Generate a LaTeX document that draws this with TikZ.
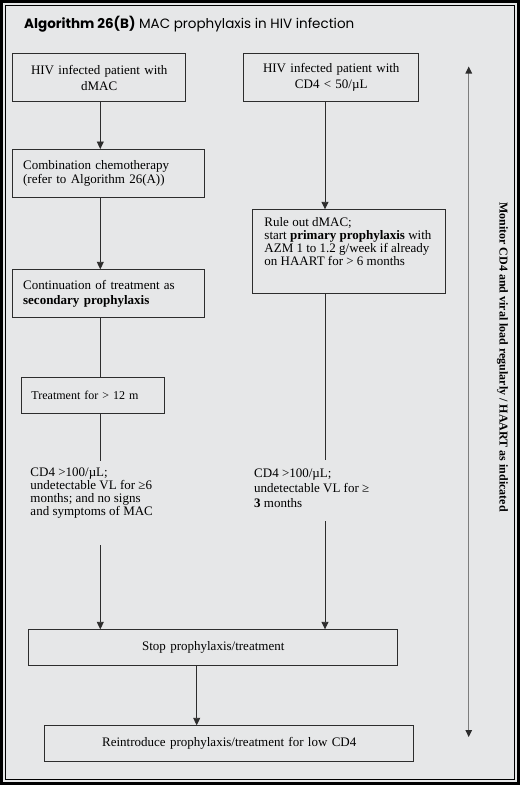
\documentclass[tikz,border=0pt]{standalone}
\usepackage{fontspec}
\setmainfont{Liberation Serif}
\newfontfamily\titlefont{Poppins}
\usetikzlibrary{arrows.meta,calc}
\definecolor{bgc}{RGB}{230,231,232}
\definecolor{linec}{RGB}{45,45,45}
\definecolor{arrc}{RGB}{125,125,125}
\tikzset{
  box/.style={draw=linec, line width=0.9pt, inner ysep=0pt, anchor=north west},
  conn/.style={draw=linec, line width=0.9pt},
  arr/.style={conn, -{Triangle[width=7pt,length=7.5pt]}},
  dbl/.style={draw=arrc, line width=1.2pt, {Triangle[width=6.5pt,length=7pt,color=linec]}-{Triangle[width=6.5pt,length=7pt,color=linec]}},
  plain/.style={inner sep=0pt, align=left, anchor=north west}
}
\begin{document}
\begin{tikzpicture}[x=1pt,y=-1pt]
\useasboundingbox (0,0) rectangle (520,785);
% frame
\fill[black] (0,0) rectangle (520,785);
\fill[bgc] (3.3,3.3) rectangle (516.7,781.7);
\draw[black, line width=1.3pt, fill=bgc] (5.2,5.2) rectangle (514.8,779.8);
% title
\node[anchor=base west, inner sep=0pt] (title) at (24,28.3)
  {\titlefont\fontsize{13.5}{15}\selectfont\textbf{Algorithm 26(B)} MAC prophylaxis in HIV infection};
% boxes
\node[box, minimum width=173pt, minimum height=47.7pt, text width=160pt, inner xsep=6.5pt, align=center,
  font=\fontsize{13}{16}\selectfont] (a) at (12.3,53.3) {HIV infected patient with\\dMAC};
\node[box, minimum width=175pt, minimum height=47.7pt, text width=162pt, inner xsep=6.5pt, align=center,
  font=\fontsize{13}{16}\selectfont] (b) at (243.3,53.3) {HIV infected patient with\\CD4 < 50/µL};
\node[box, minimum width=192pt, minimum height=48pt, text width=171.2pt, inner xsep=10.4pt, align=left,
  font=\fontsize{13}{14.5}\selectfont] (c) at (12.3,149) {Combination chemotherapy\\(refer to Algorithm 26(A))};
\node[box, minimum width=192pt, minimum height=47.7pt, text width=171.2pt, inner xsep=10.4pt, align=left,
  font=\fontsize{13}{15}\selectfont] (d) at (12.3,269.3) {Continuation of treatment as\\\textbf{secondary prophylaxis}};
\node[box, inner xsep=11.7pt] (e) at (252.3,209.3)
  {\parbox[c][84pt][t]{169.3pt}{\fontsize{13}{13}\selectfont\raggedright\vspace*{7.8pt}Rule out dMAC;\\
   start \textbf{primary prophylaxis} with\\
   AZM 1 to 1.2 g/week if already\\
   on HAART for > 6 months}};
\node[box, minimum width=143.6pt, minimum height=36pt, text width=123pt, inner xsep=10.3pt, align=left,
  font=\fontsize{12}{14}\selectfont] (f) at (20.7,377.3) {Treatment for > 12 m};
\node[plain, font=\fontsize{13}{13}\selectfont] (g) at (30.3,467.2)
  {CD4 >100/µL;\\undetectable VL for ≥6\\months; and no signs\\and symptoms of MAC};
\node[plain, font=\fontsize{13}{15}\selectfont] (h) at (254,468.7)
  {CD4 >100/µL;\\undetectable VL for ≥\\\textbf{3} months};
\node[box, minimum width=369pt, minimum height=35.7pt, text width=355pt, inner xsep=7pt, align=center,
  font=\fontsize{13}{15}\selectfont] (stop) at (28.3,629.3) {Stop prophylaxis/treatment};
\node[box, minimum width=369pt, minimum height=36pt, text width=355pt, inner xsep=7pt, align=center,
  font=\fontsize{13}{15}\selectfont] (re) at (44.3,725.3) {Reintroduce prophylaxis/treatment for low CD4};
% monitor label
\node[rotate=-90, inner sep=0pt, font=\fontsize{12}{14}\selectfont\bfseries] (mon) at (502.5,357)
  {Monitor CD4 and viral load regularly / HAART as indicated};
% coordinates
\coordinate (xl) at (100.3,0);
\coordinate (xr) at (325,0);
\coordinate (xm) at (196.7,0);
\coordinate (g1) at (100.3,461);
\coordinate (g2) at (100.3,545);
\coordinate (h1) at (325,460);
\coordinate (h2) at (325,521);
\coordinate (mt) at (468.7,66.5);
\coordinate (mb) at (468.7,737);
% connectors
\draw[arr] (a.south -| xl) -- (c.north -| xl);
\draw[arr] (c.south -| xl) -- (d.north -| xl);
\draw[conn] (d.south -| xl) -- (f.north -| xl);
\draw[conn] (f.south -| xl) -- (g1);
\draw[arr] (g2) -- (stop.north -| xl);
\draw[arr] (b.south -| xr) -- (e.north -| xr);
\draw[conn] (e.south -| xr) -- (h1);
\draw[arr] (h2) -- (stop.north -| xr);
\draw[arr] (stop.south -| xm) -- (re.north -| xm);
\draw[dbl] (mt) -- (mb);
\end{tikzpicture}
\end{document}
